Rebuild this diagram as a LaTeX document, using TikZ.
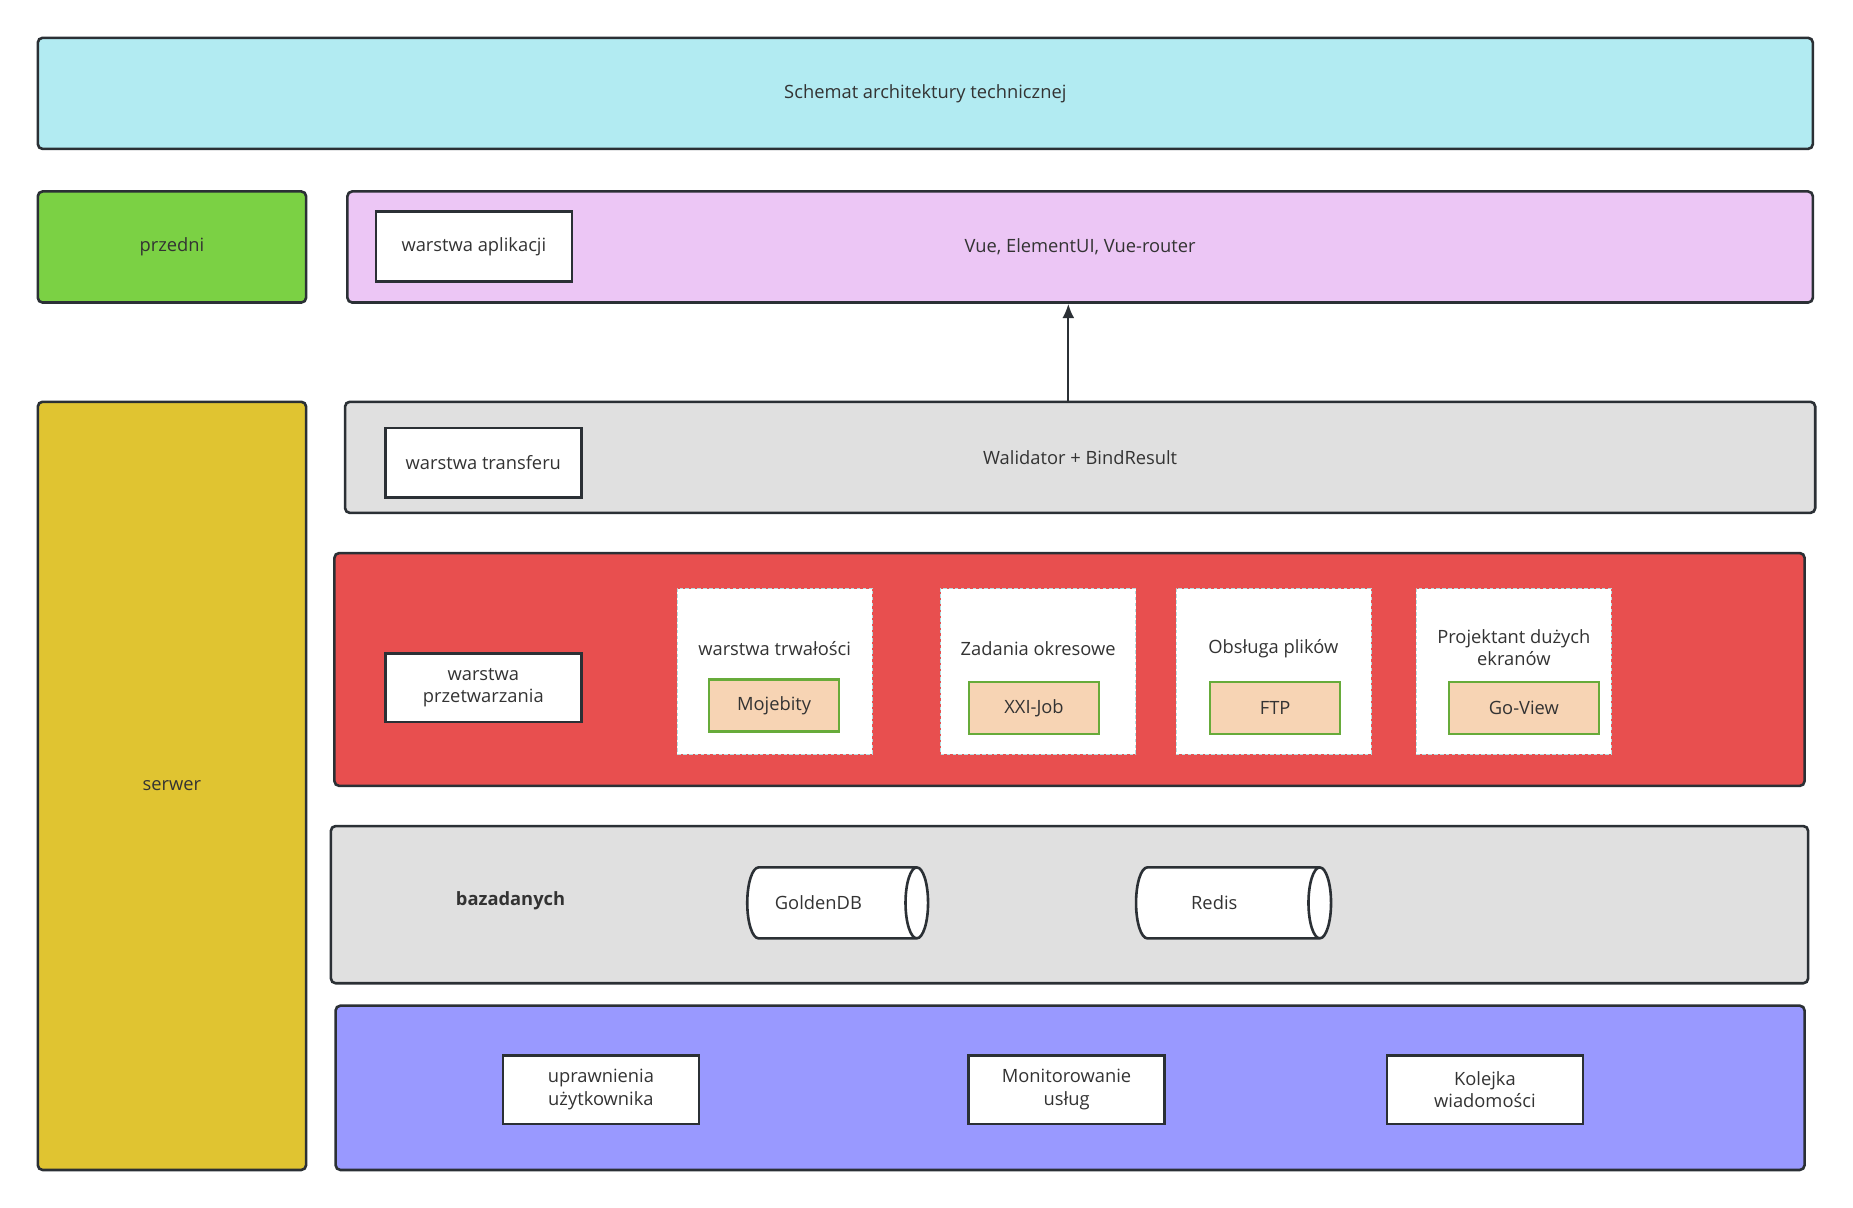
\documentclass[tikz,border=0pt]{standalone}
\usepackage{fontspec}
\setmainfont{Open Sans}
\usepackage{xcolor}
\usetikzlibrary{shapes.geometric}
\usetikzlibrary{arrows.meta}

\definecolor{edge}{HTML}{2B3035}
\definecolor{ink}{HTML}{333333}
\definecolor{cyanfill}{HTML}{B2EBF2}
\definecolor{greenfill}{HTML}{7BD144}
\definecolor{pinkfill}{HTML}{ECC6F5}
\definecolor{yellowfill}{HTML}{E0C431}
\definecolor{grayfill}{HTML}{E0E0E0}
\definecolor{redfill}{HTML}{E84F4F}
\definecolor{bluefill}{HTML}{9999FF}
\definecolor{tanfill}{HTML}{F7D4B4}
\definecolor{tanedge}{HTML}{67AB3A}
\definecolor{dashedge}{HTML}{B5DDE0}

\begin{document}
\begin{tikzpicture}[x=1pt,y=-1pt,semithick,font=\fontsize{15.5}{19}\selectfont,text=ink]
    \tikzstyle{layer}=[draw=edge, line width=2.2pt, rounded corners=4pt, inner sep=0pt]
    \tikzstyle{tag}=[draw=edge, line width=2.2pt, fill=white, inner sep=0pt, minimum width=166pt, minimum height=59pt, align=center]
    \tikzstyle{module}=[draw=dashedge, densely dashed, line width=0.6pt, fill=white, minimum width=165pt, minimum height=140pt, inner sep=0pt]
    \tikzstyle{tool}=[draw=tanedge, line width=2pt, fill=tanfill, minimum width=110pt, minimum height=44pt, inner sep=0pt]
    \tikzstyle{store}=[cylinder, draw=edge, line width=2.2pt, fill=white, shape aspect=1.6, minimum width=60pt, minimum height=153pt, inner sep=0pt, execute at end node={\hspace*{22pt}}]
    \useasboundingbox (0,0) rectangle (1568,1022);

    % title and side columns
    \node[layer, fill=cyanfill, minimum width=1502pt, minimum height=94pt] (title) at (783,79) {Schemat architektury technicznej};
    \node[layer, fill=greenfill, minimum width=227pt, minimum height=94pt] (front) at (145.5,209) {przedni};
    \node[layer, fill=yellowfill, minimum width=227pt, minimum height=650pt] (server) at (145.5,665) {serwer};

    % application layer
    \node[layer, fill=pinkfill, minimum width=1240pt, minimum height=94pt] (app) at (914,209) {Vue, ElementUI, Vue-router};
    \node[tag] (apptag) at (401,208.5) {warstwa aplikacji};

    % transfer layer
    \node[layer, fill=grayfill, minimum width=1244pt, minimum height=94pt] (transfer) at (914,387) {Walidator + BindResult};
    \node[tag] (transfertag) at (409,391.5) {warstwa transferu};
    \draw[-{Latex[length=12pt,width=10pt]}, line width=1.6pt, draw=edge, fill=edge] ([xshift=-10pt]transfer.north) -- ([xshift=-10pt]app.south);

    % processing layer
    \node[layer, fill=redfill, minimum width=1244pt, minimum height=197pt] (logic) at (905,566.5) {};
    \node[tag, minimum height=58pt] (logictag) at (409,582) {warstwa\\przetwarzania};
    \node[module] (persist) at (655.5,568) {};
    \node[module] (jobs) at (878.5,568) {};
    \node[module] (files) at (1077.5,568) {};
    \node[module] (screens) at (1281,568) {};
    \node (persistlbl) at (655.5,549) {warstwa trwałości};
    \node (jobslbl) at (878.5,549) {Zadania okresowe};
    \node (fileslbl) at (1077.5,549) {Obsługa plików};
    \node[align=center] (screenslbl) at (1281,548) {Projektant dużych\\ekranów};
    \node[tool] (mojebity) at (655,597) {Mojebity};
    \node[tool] (xxljob) at (875,599) {XXI-Job};
    \node[tool] (ftp) at (1079,599) {FTP};
    \node[tool, minimum width=127pt] (goview) at (1289.5,599) {Go-View};

    % database layer
    \node[layer, fill=grayfill, minimum width=1250pt, minimum height=133pt] (db) at (905,765.5) {};
    \node[font=\fontsize{15.5}{19}\selectfont\bfseries] (dblbl) at (432,762) {bazadanych};
    \node[store] (golden) at (703.5,764) {GoldenDB};
    \node[store, minimum height=165pt] (redis) at (1038.5,764) {Redis};

    % support layer
    \node[layer, fill=bluefill, minimum width=1243pt, minimum height=139pt] (support) at (905.5,920.5) {};
    \node[tag, minimum height=58pt] (perm) at (508.5,922) {uprawnienia\\użytkownika};
    \node[tag, minimum height=58pt] (monitor) at (902.5,922) {Monitorowanie\\usług};
    \node[tag, minimum height=58pt] (queue) at (1256.5,922) {Kolejka\\wiadomości};
\end{tikzpicture}
\end{document}
